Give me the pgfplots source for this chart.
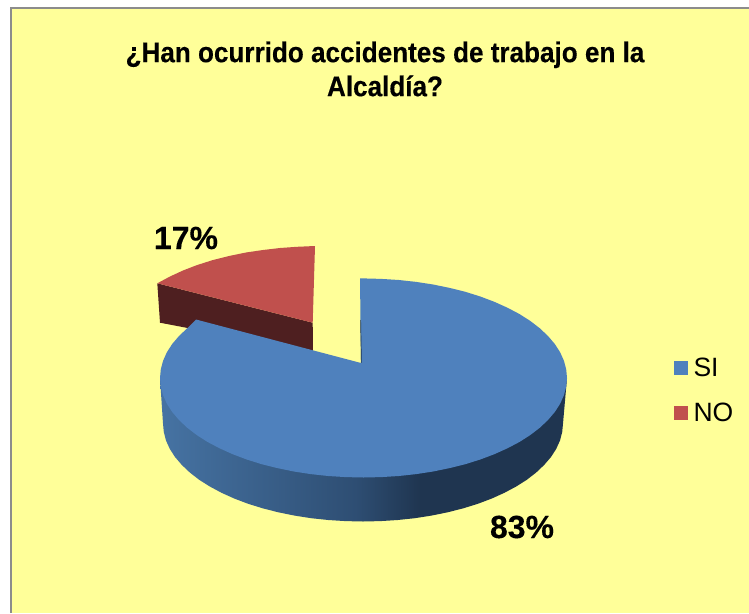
\documentclass[border=0pt]{standalone}
\usepackage{fontspec}
\setmainfont{Liberation Sans}
\newfontfamily\titlefont[FakeStretch=0.915,BoldFeatures={FakeBold=0.3}]{Liberation Sans}
\newfontfamily\labelfont[BoldFeatures={FakeBold=0.3}]{Liberation Sans}
\usepackage{pgfplots}
\pgfplotsset{compat=1.18}
\definecolor{bgY}{HTML}{FFFF99}
\definecolor{frameG}{HTML}{8C8C8C}
\definecolor{blueT}{HTML}{4F81BD}
\definecolor{redT}{HTML}{C0504D}
\definecolor{redS}{HTML}{4E1F20}
\definecolor{blueA}{HTML}{4673A3}
\definecolor{blueB}{HTML}{2E4E73}
\definecolor{blueC}{HTML}{1F3550}
\pgfdeclarehorizontalshading{sideblue}{100bp}{color(0bp)=(blueA); color(25bp)=(blueA); color(49bp)=(blueB); color(57bp)=(blueC); color(100bp)=(blueC)}
\begin{document}
\begin{tikzpicture}
\begin{axis}[
  width=749pt, height=613pt, scale only axis,
  xmin=0, xmax=749, ymin=0, ymax=613, y dir=reverse,
  hide axis, enlargelimits=false,
  legend cell align=left,
  legend style={at={(axis cs:673.5,358)}, anchor=north west, draw=none, fill=none,
    font=\fontsize{26.5}{30}\selectfont, inner sep=0pt, outer sep=0pt, row sep=25pt,
    nodes={inner xsep=6pt, inner ysep=0pt}},
  legend image code/.code={\fill[#1] (0pt,-7pt) rectangle (14pt,7pt);},
]
% page and chart area
\addplot[fill=white, draw=none, forget plot] coordinates {(0,0) (749,0) (749,613) (0,613)} -- cycle;
\addplot[fill=bgY, draw=none, forget plot] coordinates {(11,8) (749,8) (749,613) (11,613)} -- cycle;
\addplot[draw=frameG, line width=2.3pt, forget plot] coordinates {(11.2,613) (11.2,8.2) (749,8.2)};
% NO slice: side, then top
\addplot[fill=redS, draw=none, forget plot] coordinates {(157.3,283.3) (312.7,322.7) (313,352) (160,322.7)} -- cycle;
\addplot[fill=redT, draw=none, forget plot] coordinates {(312.7,322.7) (157.3,283.3) (170,276.5) (183,270.5) (196.7,265.2) (213,260) (230,255.8) (246,252.5) (263,250) (280,248) (297,246.8) (315,246)} -- cycle;
% SI slice: side
\addplot[shading=sideblue, draw=none, forget plot] coordinates {
 (160,378) (163,423.5) (163.8,432) (166,440.5) (169.8,448.9) (175,457) (181.8,464.9) (189.8,472.5) (199.2,479.8) (209.8,486.5) (221.6,492.8) (234.4,498.6) (248.2,503.8) (263,508.4) (278.4,512.3) (294.6,515.6) (311.2,518.2) (328.2,520) (345.6,521.1) (363,521.5)
 (380.4,521.1) (397.8,520) (414.8,518.2) (431.4,515.6) (447.6,512.3) (463,508.4) (477.8,503.8) (491.6,498.6) (504.4,492.8) (516.2,486.5) (526.8,479.8) (536.2,472.5) (544.2,464.9) (551,457) (556.2,448.9) (560,440.5) (562.2,432) (563,423.5) (567,378)
} -- cycle;
% SI slice: top
\addplot[fill=blueT, draw=none, forget plot] coordinates {
 (361,363) (360,278.3) (381.2,278.9) (398.9,280) (416.2,281.9) (433.1,284.5) (449.6,287.9) (465.3,291.8) (480.3,296.5) (494.3,301.8) (507.4,307.7) (519.4,314) (530.2,320.9) (539.7,328.2) (547.9,335.9) (554.8,344) (560.1,352.2) (563.9,360.7) (566.2,369.3) (567,378)
 (566.2,386.7) (563.9,395.3) (560.1,403.8) (554.8,412) (547.9,420.1) (539.7,427.8) (530.2,435.1) (519.4,442) (507.4,448.3) (494.3,454.2) (480.3,459.5) (465.3,464.2) (449.6,468.1) (433.1,471.5) (416.2,474.1) (398.9,476) (381.2,477.1) (363.5,477.5)
 (345.8,477.1) (328.1,476) (310.8,474.1) (293.9,471.5) (277.4,468.1) (261.7,464.2) (246.7,459.5) (232.7,454.2) (219.6,448.3) (207.6,442) (196.8,435.1) (187.3,427.8) (179.1,420.1) (172.2,412) (166.9,403.8) (163.1,395.3) (160.8,386.7) (160,378)
 (160.8,369.3) (163.1,360.7) (166.9,352.2) (172.2,344) (179.1,335.9) (187.3,328.2) (196,319.5)
} -- cycle;
\addplot[draw=blueC, line width=0.7pt, forget plot] coordinates {(360.6,320) (361.4,362.5)};
% legend
\addlegendimage{fill=blueT, draw=none}
\addlegendentry{SI}
\addlegendimage{fill=redT, draw=none}
\addlegendentry{NO}
% texts
\node[align=center, font=\fontsize{28.5}{34}\selectfont\titlefont\bfseries] at (axis cs:385,69) {¿Han ocurrido accidentes de trabajo en la\\Alcaldía?};
\node[font=\fontsize{32}{36}\selectfont\labelfont\bfseries] at (axis cs:186,238) {17\%};
\node[font=\fontsize{32}{36}\selectfont\labelfont\bfseries] at (axis cs:522,527) {83\%};
\end{axis}
\end{tikzpicture}
\end{document}
